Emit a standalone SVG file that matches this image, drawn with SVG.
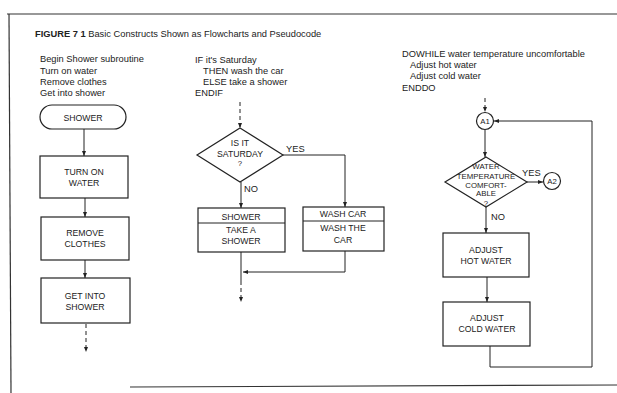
<svg xmlns="http://www.w3.org/2000/svg" width="617" height="393" viewBox="0 0 617 393">
<defs>
<marker id="ah" viewBox="0 0 10 10" refX="10" refY="5" markerWidth="5" markerHeight="5" orient="auto-start-reverse">
<path d="M0,1 L10,5 L0,9 Z" fill="#222"/>
</marker>
<style>
.bx{fill:#fff;stroke:#222;stroke-width:1.2}
.ln{fill:none;stroke:#222;stroke-width:1}
.dash{fill:none;stroke:#222;stroke-width:1;stroke-dasharray:4 3}
.t{font-family:"Liberation Sans",Arial,sans-serif;font-size:8.7px;fill:#222;text-anchor:middle}
.ps{font-family:"Liberation Sans",Arial,sans-serif;font-size:9.3px;fill:#222}
.sm{font-family:"Liberation Sans",Arial,sans-serif;font-size:7.8px;fill:#222;text-anchor:middle}
.fr{fill:none;stroke:#333;stroke-width:1.2}
</style>
</defs>
<rect width="617" height="393" fill="#fff"/>
<g id="frame">
<path class="fr" d="M7,14 L617,14"/>
<path class="fr" d="M9,14 L11,393"/>
<path class="fr" d="M130,387 L617,385"/>
</g>
<g id="title">
<text x="35" y="37" class="ps" font-size="10"><tspan font-weight="bold">FIGURE 7 1</tspan>  Basic Constructs Shown as Flowcharts and Pseudocode</text>
</g>
<g id="pseudo1">
<text class="ps" x="40" y="62">Begin Shower subroutine</text>
<text class="ps" x="40" y="74">Turn on water</text>
<text class="ps" x="40" y="85">Remove clothes</text>
<text class="ps" x="40" y="96">Get into shower</text>
</g>
<g id="pseudo2">
<text class="ps" x="195" y="63">IF it's Saturday</text>
<text class="ps" x="203" y="74">THEN wash the car</text>
<text class="ps" x="203" y="85">ELSE take a shower</text>
<text class="ps" x="195" y="96">ENDIF</text>
</g>
<g id="pseudo3">
<text class="ps" x="402" y="57">DOWHILE water temperature uncomfortable</text>
<text class="ps" x="410" y="68">Adjust hot water</text>
<text class="ps" x="410" y="79">Adjust cold water</text>
<text class="ps" x="402" y="91">ENDDO</text>
</g>
<g id="connectors">
<path class="ln" d="M84,129 L84,156" marker-end="url(#ah)"/>
<path class="ln" d="M85,198 L85,217" marker-end="url(#ah)"/>
<path class="ln" d="M85,260 L85,278" marker-end="url(#ah)"/>
<path class="dash" d="M86,324 L86,352" marker-end="url(#ah)"/>
<path class="dash" d="M240,102 L240,128" marker-end="url(#ah)"/>
<path class="ln" d="M241,182 L241,208" marker-end="url(#ah)"/>
<path class="ln" d="M283,155 L345,155 L345,207" marker-end="url(#ah)"/>
<path class="ln" d="M345,251 L345,272 L243,272" marker-end="url(#ah)"/>
<path class="ln" d="M241,252 L241,281"/>
<path class="dash" d="M241,281 L241,302" marker-end="url(#ah)"/>
<path class="dash" d="M485,98 L485,112" marker-end="url(#ah)"/>
<path class="ln" d="M485,130 L485,157" marker-end="url(#ah)"/>
<path class="ln" d="M527,182 L543,182" marker-end="url(#ah)"/>
<path class="ln" d="M486,207 L486,233" marker-end="url(#ah)"/>
<path class="ln" d="M487,277 L487,302" marker-end="url(#ah)"/>
<path class="ln" d="M490,346 L490,367 L592,367 L592,121 L494,121" marker-end="url(#ah)"/>
<text class="ps" x="286" y="152">YES</text>
<text class="ps" x="244" y="192">NO</text>
<text class="ps" x="522" y="176" font-size="8">YES</text>
<text class="ps" x="491" y="220">NO</text>
</g>
<g id="n-shower">
<rect class="bx" x="40" y="105" width="86" height="24" rx="12"/>
<text class="t" x="83" y="120.5">SHOWER</text>
</g>
<g id="n-turnon">
<rect class="bx" x="40" y="156" width="88" height="42"/>
<text class="t" x="84" y="175">TURN ON</text>
<text class="t" x="84" y="186">WATER</text>
</g>
<g id="n-remove">
<rect class="bx" x="41" y="217" width="88" height="43"/>
<text class="t" x="85" y="236">REMOVE</text>
<text class="t" x="85" y="247">CLOTHES</text>
</g>
<g id="n-getinto">
<rect class="bx" x="41" y="278" width="89" height="45"/>
<text class="t" x="85" y="299">GET INTO</text>
<text class="t" x="85" y="310">SHOWER</text>
</g>
<g id="n-saturday">
<polygon class="bx" points="240,128 283,155 240,182 197,155"/>
<text class="t" x="240" y="146">IS IT</text>
<text class="t" x="240" y="157">SATURDAY</text>
<text class="sm" x="240" y="166" font-size="5.5">?</text>
</g>
<g id="n-takeshower">
<rect class="bx" x="198" y="208" width="87" height="44"/>
<path class="ln" d="M198,223 L285,223"/>
<text class="t" x="241" y="220">SHOWER</text>
<text class="t" x="241" y="233">TAKE A</text>
<text class="t" x="241" y="244">SHOWER</text>
</g>
<g id="n-washcar">
<rect class="bx" x="303" y="207" width="81" height="44"/>
<path class="ln" d="M303,221 L384,221"/>
<text class="t" x="343" y="216.5">WASH CAR</text>
<text class="t" x="343" y="231">WASH THE</text>
<text class="t" x="343" y="243">CAR</text>
</g>
<g id="n-a1">
<circle class="bx" cx="485" cy="121" r="8.5"/>
<text class="sm" x="485" y="124">A1</text>
</g>
<g id="n-temp">
<polygon class="bx" points="486,157 527,182 486,207 445,182"/>
<text class="sm" x="486" y="169">WATER</text>
<text class="sm" x="486" y="178.5">TEMPERATURE</text>
<text class="sm" x="486" y="188">COMFORT-</text>
<text class="sm" x="486" y="196">ABLE</text>
<text class="sm" x="486" y="205.5" font-size="5">?</text>
</g>
<g id="n-a2">
<circle class="bx" cx="552" cy="181" r="8.5"/>
<text class="sm" x="552" y="184">A2</text>
</g>
<g id="n-hot">
<rect class="bx" x="443" y="233" width="86" height="44"/>
<text class="t" x="486" y="253">ADJUST</text>
<text class="t" x="486" y="264">HOT WATER</text>
</g>
<g id="n-cold">
<rect class="bx" x="443" y="302" width="87" height="44"/>
<text class="t" x="487" y="321">ADJUST</text>
<text class="t" x="487" y="332">COLD WATER</text>
</g>
</svg>
